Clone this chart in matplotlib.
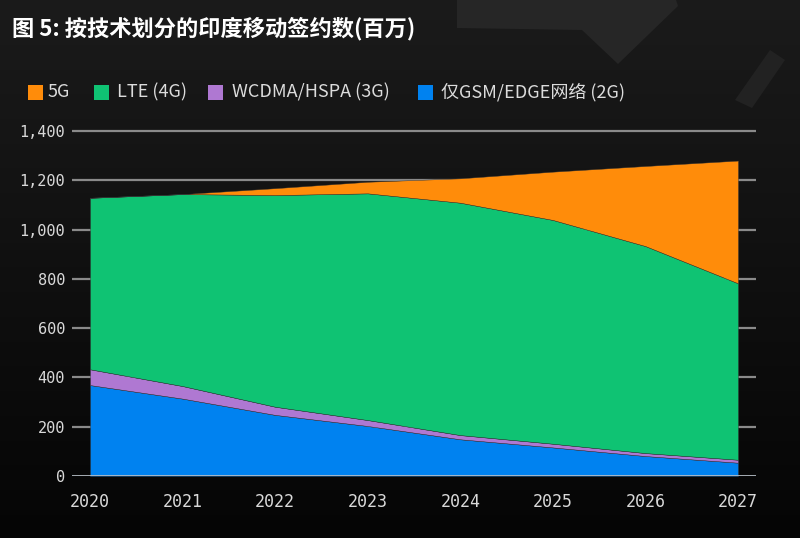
import numpy as np
import matplotlib
matplotlib.use("Agg")
import matplotlib.pyplot as plt
from matplotlib.patches import Rectangle, Polygon

# Data (millions)
years = [2020, 2021, 2022, 2023, 2024, 2025, 2026, 2027]
gsm_2g = [369, 314, 248, 203, 149, 116, 81, 54]
wcdma_3g = [64, 51, 33, 24, 17, 15, 12, 12]
lte_4g = [696, 779, 859, 920, 943, 908, 840, 716]
nr_5g = [0, 0, 28, 47, 99, 196, 325, 498]

labels = ["5G", "LTE (4G)", "WCDMA/HSPA (3G)", "仅GSM/EDGE网络 (2G)"]
colors = ["#ff8c0a", "#0fc373", "#af78d2", "#0082f0"]
yticks = [0, 200, 400, 600, 800, 1000, 1200, 1400]

W, H = 800, 538
fig = plt.figure(figsize=(W / 100, H / 100), dpi=100)
fig.patch.set_facecolor("#111111")

# dark gradient background
bg = fig.add_axes([0, 0, 1, 1], zorder=-10)
grad = np.linspace(0.105, 0.02, 256).reshape(-1, 1)
bg.imshow(np.dstack([grad, grad, grad]), aspect="auto", extent=[0, W, 0, H])
# faint decorative shapes in the top-right corner
bg.add_patch(Polygon([(457, H), (676, H), (678, H - 6), (618, H - 64), (582, H - 30), (457, H - 28)],
                     closed=True, facecolor="#262626", edgecolor="none"))
bg.add_patch(Polygon([(735, H - 100), (770, H - 50), (785, H - 60), (752, H - 108)],
                     closed=True, facecolor="#222222", edgecolor="none"))
bg.set_xlim(0, W)
bg.set_ylim(0, H)
bg.axis("off")


def px(x, y):
    return x / W, 1 - y / H


left, right, bottom, top = 72, 756, 476, 476 - 1420 * 345 / 1400
ax = fig.add_axes([left / W, 1 - bottom / H, (right - left) / W, (bottom - top) / H])
ax.set_facecolor("none")

ax.stackplot(years, gsm_2g, wcdma_3g, lte_4g, nr_5g,
             colors=colors[::-1], edgecolor="#333333", linewidth=0.3, zorder=3)

ax.set_xlim(2020 - 18 / 92.57, 2027 + 18 / 92.57)
ax.set_ylim(0, 1420)
ax.set_yticks(yticks)
ax.set_yticklabels([f"{v:,}" for v in yticks])
ax.set_xticks(years)
ax.set_xticklabels([str(y) for y in years])
for v in yticks[1:]:
    ax.axhline(v, color="#8a8a8a", linewidth=1.6, zorder=1)
ax.axhline(0, color="#b4bcc4", linewidth=2, zorder=4)

for s in ax.spines.values():
    s.set_visible(False)
ax.tick_params(length=0, colors="#d9d9d9")
ax.tick_params(axis="y", pad=5)
ax.tick_params(axis="x", pad=12)
for lab in ax.get_yticklabels():
    lab.set_family("DejaVu Sans Mono")
    lab.set_fontsize(11)
for lab in ax.get_xticklabels():
    lab.set_family("DejaVu Sans Mono")
    lab.set_fontsize(12)

# title
fig.text(*px(12, 29), "图 5: 按技术划分的印度移动签约数(百万)", family=["Noto Sans CJK SC", "DejaVu Sans"],
         fontsize=16, fontweight="bold", color="white", va="center", ha="left")

# legend
sq_x = [28, 94, 208, 418]
tx_x = [48, 117, 232, 441]
for lab, c, sx, tx in zip(labels, colors, sq_x, tx_x):
    fig.patches.append(Rectangle(px(sx, 100), 15 / W, 15 / H, transform=fig.transFigure,
                                 facecolor=c, edgecolor="none", figure=fig))
    fig.text(*px(tx, 92), lab, family=["Noto Sans CJK SC", "DejaVu Sans"], fontsize=13,
             color="#dcdcdc", va="center", ha="left")

fig.savefig("out.png", dpi=100, facecolor=fig.get_facecolor())
